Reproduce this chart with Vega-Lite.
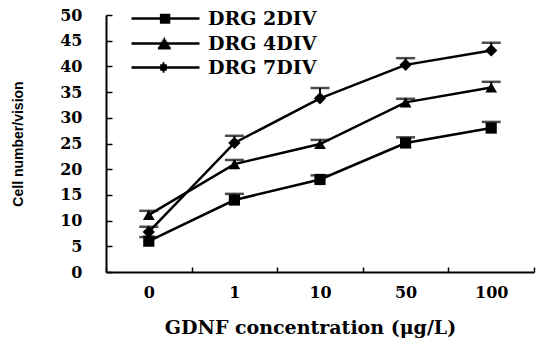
{
  "$schema": "https://vega.github.io/schema/vega-lite/v6.json",
  "width": 428,
  "height": 257,
  "autosize": {"type": "none"},
  "padding": {"left": 106, "top": 15, "right": 7, "bottom": 66},
  "background": "white",
  "config": {
    "view": {"stroke": null},
    "axis": {"grid": false, "domainColor": "black", "tickColor": "black", "labelColor": "black", "titleColor": "black", "labelOverlap": false}
  },
  "data": {
    "values": [
      {"series": "DRG 2DIV", "conc": "0", "mean": 6, "upper": 6.8},
      {"series": "DRG 2DIV", "conc": "1", "mean": 14, "upper": 15.2},
      {"series": "DRG 2DIV", "conc": "10", "mean": 18, "upper": 18.8},
      {"series": "DRG 2DIV", "conc": "50", "mean": 25.1, "upper": 26.2},
      {"series": "DRG 2DIV", "conc": "100", "mean": 28, "upper": 29.2},
      {"series": "DRG 4DIV", "conc": "0", "mean": 11.1, "upper": 11.9},
      {"series": "DRG 4DIV", "conc": "1", "mean": 21, "upper": 21.8},
      {"series": "DRG 4DIV", "conc": "10", "mean": 24.9, "upper": 25.7},
      {"series": "DRG 4DIV", "conc": "50", "mean": 33, "upper": 33.7},
      {"series": "DRG 4DIV", "conc": "100", "mean": 35.9, "upper": 37},
      {"series": "DRG 7DIV", "conc": "0", "mean": 7.8, "upper": 8.8},
      {"series": "DRG 7DIV", "conc": "1", "mean": 25.1, "upper": 26.5},
      {"series": "DRG 7DIV", "conc": "10", "mean": 33.8, "upper": 35.8},
      {"series": "DRG 7DIV", "conc": "50", "mean": 40.3, "upper": 41.6},
      {"series": "DRG 7DIV", "conc": "100", "mean": 43.1, "upper": 44.6}
    ]
  },
  "encoding": {
    "x": {
      "field": "conc", "type": "ordinal", "sort": ["0", "1", "10", "50", "100"],
      "scale": {"type": "band", "paddingInner": 0, "paddingOuter": 0},
      "axis": {
        "title": "GDNF concentration (μg/L)",
        "labelAngle": 0,
        "tickBand": "extent",
        "domainWidth": 2,
        "tickSize": -5,
        "tickWidth": 1.5,
        "labelFont": "DejaVu Serif", "labelFontWeight": "bold", "labelFontSize": 16,
        "labelPadding": 17,
        "labelDx": 6,
        "titleFont": "DejaVu Serif", "titleFontWeight": "bold", "titleFontSize": 19,
        "titlePadding": 18,
        "titleX": 204
      }
    },
    "y": {
      "field": "mean", "type": "quantitative",
      "scale": {"domain": [0, 50], "nice": false, "zero": true},
      "axis": {
        "title": "Cell number/vision",
        "values": [0, 5, 10, 15, 20, 25, 30, 35, 40, 45, 50],
        "labelOverlap": false,
        "labelSeparation": -30,
        "labelBound": false,
        "domainWidth": 2,
        "tickSize": -6,
        "tickWidth": 1.5,
        "labelFont": "DejaVu Serif", "labelFontWeight": "bold", "labelFontSize": 16,
        "labelPadding": 30,
        "titleFont": "Liberation Sans", "titleFontWeight": "bold", "titleFontSize": 14,
        "titlePadding": 34
      }
    }
  },
  "layer": [
    {
      "mark": {"type": "line", "color": "black", "strokeWidth": 2.5},
      "encoding": {
        "detail": {"field": "series"}
      }
    },
    {
      "mark": {"type": "rule", "color": "black", "strokeWidth": 2},
      "encoding": {
        "y2": {"field": "upper"}
      }
    },
    {
      "mark": {"type": "tick", "color": "black", "thickness": 2.5, "size": 19, "orient": "horizontal"},
      "encoding": {
        "y": {"field": "upper", "type": "quantitative"}
      }
    },
    {
      "mark": {"type": "point", "filled": true, "color": "black", "opacity": 1},
      "encoding": {
        "shape": {
          "field": "series", "type": "nominal",
          "scale": {"domain": ["DRG 2DIV", "DRG 4DIV", "DRG 7DIV"], "range": ["square", "triangle-up", "diamond"]},
          "legend": null
        },
        "size": {
          "field": "series", "type": "nominal",
          "scale": {"domain": ["DRG 2DIV", "DRG 4DIV", "DRG 7DIV"], "range": [125, 150, 95]},
          "legend": null
        }
      }
    },
    {
      "transform": [{"filter": "false"}],
      "mark": {"type": "point", "filled": false, "color": "black", "strokeWidth": 2.5, "opacity": 1},
      "encoding": {
        "shape": {
          "field": "series", "type": "nominal",
          "scale": {
            "domain": ["DRG 2DIV", "DRG 4DIV", "DRG 7DIV"],
            "range": [
              "M-4.25,0H4.25M-0.7,-0.45H0.6M-0.7,-0.2H0.6M-0.7,0.05H0.6M-0.7,0.3H0.6M-0.7,0.5H0.6",
              "M-4.25,0H4.25M-0.24,-0.6H-0.06M-0.39,-0.35H0.09M-0.54,-0.1H0.24M-0.68,0.15H0.38M-0.83,0.4H0.53M-0.95,0.6H0.65",
              "M-4.25,0H4.25M-0.37,-0.5H-0.13M-0.66,-0.25H0.16M-0.95,0H0.45M-0.66,0.25H0.16M-0.37,0.5H-0.13"
            ]
          },
          "legend": {
            "title": null,
            "orient": "none",
            "legendX": 50,
            "legendY": -6,
            "padding": 0,
            "symbolSize": 256,
            "symbolStrokeColor": "black",
            "symbolStrokeWidth": 2.5,
            "symbolOpacity": 1,
            "labelOffset": 33,
            "rowPadding": 4,
            "labelFont": "DejaVu Serif", "labelFontWeight": "bold", "labelFontSize": 19,
            "labelColor": "black",
            "labelLimit": 300
          }
        }
      }
    }
  ],
  "resolve": {"scale": {"shape": "independent", "size": "independent"}, "legend": {"shape": "independent"}}
}
